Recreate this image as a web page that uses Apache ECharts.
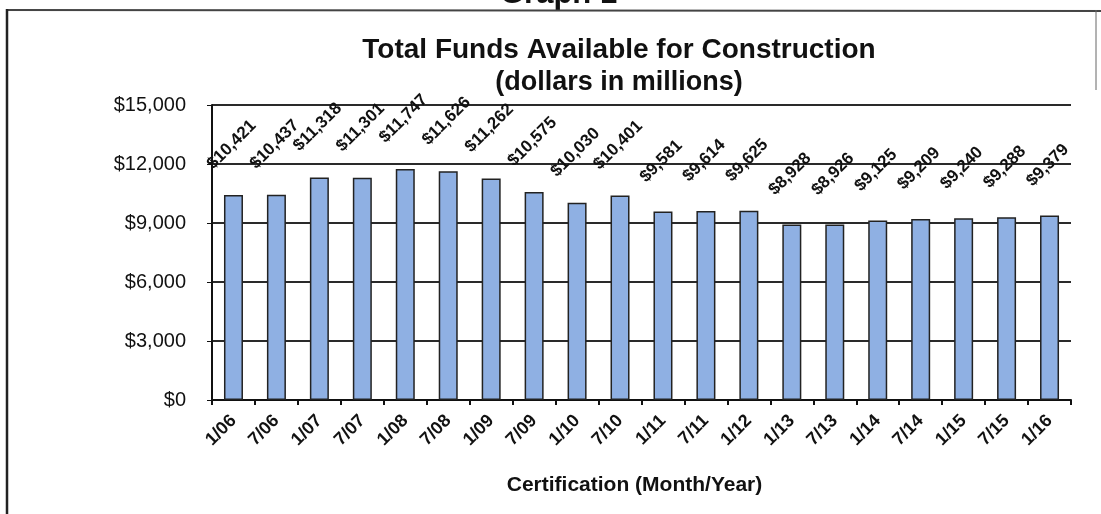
<!DOCTYPE html>
<html>
<head>
<meta charset="utf-8">
<script src="https://cdn.jsdelivr.net/npm/echarts@6/dist/echarts.min.js"></script>
<style>html,body{margin:0;padding:0;background:#fff;}#c{width:1101px;height:514px;}</style>
</head>
<body>
<div id="c"></div>
<script>
const categories = ['1/06','7/06','1/07','7/07','1/08','7/08','1/09','7/09','1/10','7/10','1/11','7/11','1/12','1/13','7/13','1/14','7/14','1/15','7/15','1/16'];
const funds = [10421,10437,11318,11301,11747,11626,11262,10575,10030,10401,9581,9614,9625,8928,8926,9125,9209,9240,9288,9379];
const yTicks = [0,3000,6000,9000,12000,15000];

const FF = '"Liberation Sans", Arial, sans-serif';
const fmt = v => '$' + v.toLocaleString('en-US');

const chart = echarts.init(document.getElementById('c'));
chart.setOption({
  backgroundColor: '#fff',
  animation: false,
  title: [
    {text: 'Total Funds Available for Construction', left: 614, textAlign: 'center', top: 31,
     textStyle: {fontFamily: FF, fontSize: 28, fontWeight: 'bold', color: '#111'}},
    {text: '(dollars in millions)', left: 614, textAlign: 'center', top: 64,
     textStyle: {fontFamily: FF, fontSize: 27, fontWeight: 'bold', color: '#111'}}
  ],
  graphic: [
    {type: 'text', x: 500, y: 10, style: {text: 'Graph 1', font: 'bold 31px ' + FF, fill: '#111', verticalAlign: 'bottom'}},
    {type: 'line', shape: {x1: 7, y1: 10, x2: 1101, y2: 11}, style: {stroke: '#444', lineWidth: 2}},
    {type: 'line', shape: {x1: 7, y1: 9, x2: 7, y2: 514}, style: {stroke: '#222', lineWidth: 2.5}},
    {type: 'line', shape: {x1: 1096, y1: 10, x2: 1096, y2: 90}, style: {stroke: '#666', lineWidth: 1}}
  ],
  grid: {left: 212, right: 30, top: 105, bottom: 114},
  xAxis: {
    type: 'category', data: categories,
    axisLine: {lineStyle: {color: '#111', width: 2}},
    axisTick: {show: true, length: 5, lineStyle: {color: '#111', width: 2}},
    axisLabel: {rotate: 45, margin: 18, fontFamily: FF, fontSize: 18, fontWeight: 'bold', color: '#111'},
    name: 'Certification (Month/Year)', nameLocation: 'middle', nameGap: 75,
    nameTextStyle: {fontFamily: FF, fontSize: 21, fontWeight: 'bold', color: '#111', padding: [0, 14, 0, 0]}
  },
  yAxis: {
    type: 'value', min: 0, max: 15000, interval: 3000,
    axisLine: {show: true, lineStyle: {color: '#111', width: 2}},
    axisTick: {show: true, length: 5, lineStyle: {color: '#111'}},
    splitLine: {lineStyle: {color: '#2a2a2a', width: 2}},
    axisLabel: {margin: 26, fontFamily: FF, fontSize: 20, color: '#111', formatter: v => yTicks.includes(v) ? fmt(v) : ''}
  },
  series: [{
    type: 'bar', data: funds, barWidth: 19,
    itemStyle: {color: '#8fb0e3', borderColor: '#222', borderWidth: 1.5},
    label: {
      show: true, position: 'top', distance: 40, offset: [6, 0], rotate: 45,
      fontFamily: FF, fontSize: 17, fontWeight: 'bold', color: '#111',
      formatter: p => fmt(p.value)
    }
  }]
});
</script>
</body>
</html>
